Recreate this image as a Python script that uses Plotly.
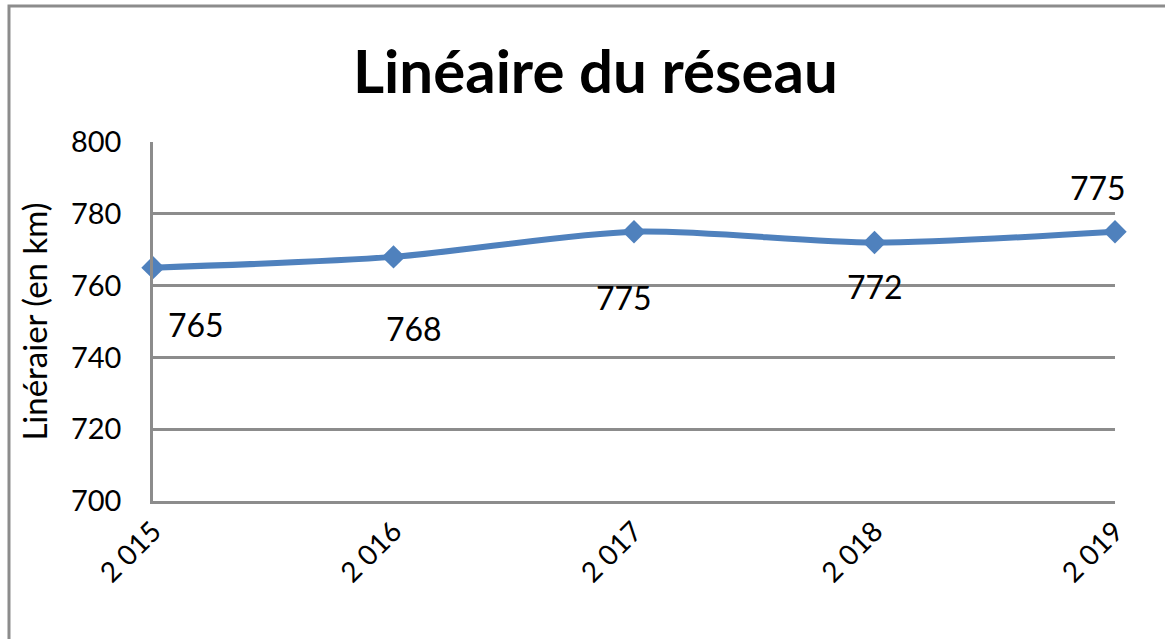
import plotly.graph_objects as go

years = ["2 015", "2 016", "2 017", "2 018", "2 019"]
values = [765, 768, 775, 772, 775]
labels = ["765", "768", "775", "772", "775"]
label_dx = [43, 20, -10, 0, -17]
label_dy = [-57, -72, -66, -44, 44]

y_ticks = [700, 720, 740, 760, 780, 800]

FONT = "Lato, Carlito, 'Open Sans', sans-serif"
BLUE = "#4F81BD"
GRID = "#8C8C8C"

fig = go.Figure()
fig.add_trace(go.Scatter(
    x=years, y=values, mode="lines+markers",
    line=dict(color=BLUE, width=6, shape="spline", smoothing=0.8),
    marker=dict(symbol="diamond", size=18, color=BLUE),
    showlegend=False, hoverinfo="skip", cliponaxis=False,
))

for xv, yv, t, dx, dy in zip(years, values, labels, label_dx, label_dy):
    fig.add_annotation(x=xv, y=yv, text=t, showarrow=False,
                       xshift=dx, yshift=dy,
                       font=dict(family=FONT, size=32, color="#000000"))

fig.add_shape(type="rect", xref="paper", yref="paper",
              x0=-0.1497, x1=1.2, y0=-0.6, y1=1.379,
              line=dict(color="#8C8C8C", width=3), layer="below")

fig.update_layout(
    width=1165, height=639,
    margin=dict(l=153, r=50, t=142, b=138),
    paper_bgcolor="white", plot_bgcolor="white",
    title=dict(text="<b>Linéaire du réseau</b>", x=0.511, xanchor="center",
               y=0.887, yanchor="middle",
               font=dict(family=FONT, size=60, color="#000000")),
    font=dict(family=FONT, color="#000000"),
)
fig.update_xaxes(
    type="category", range=[0, 4], showgrid=False,
    showline=True, linecolor=GRID, linewidth=2.5,
    tickangle=-45, ticks="", tickfont=dict(family=FONT, size=28, color="#000000"),
    zeroline=False,
)
fig.update_yaxes(
    range=[700, 800], tickvals=y_ticks, showgrid=True, gridcolor=GRID, gridwidth=2.5,
    showline=True, linecolor=GRID, linewidth=2.5, ticks="", ticklabelstandoff=23,
    tickfont=dict(family=FONT, size=29, color="#000000"), zeroline=False,
    title=dict(text="Linéraier (en km)", standoff=14,
               font=dict(family=FONT, size=33, color="#000000")),
)

fig.write_html("out.html", config={"displayModeBar": False},
               post_script="document.body.style.margin='0';")
